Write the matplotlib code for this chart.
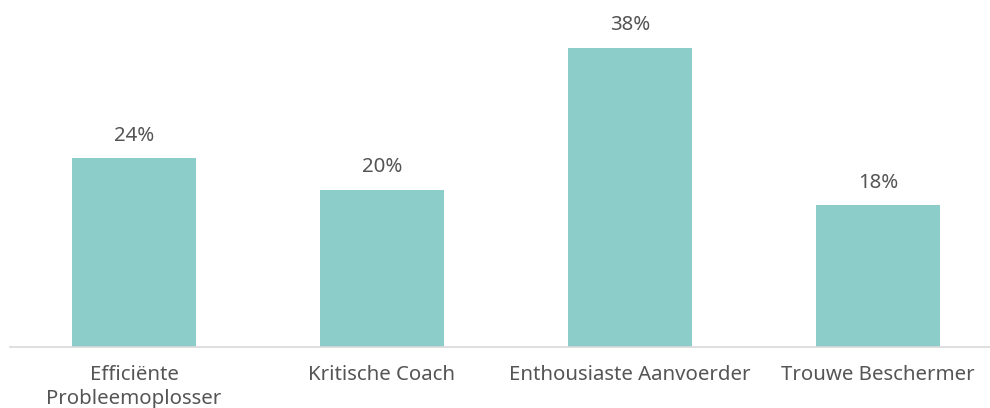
import matplotlib
matplotlib.use("Agg")
import matplotlib.pyplot as plt

categories = ["Efficiënte\nProbleemoplosser", "Kritische Coach", "Enthousiaste Aanvoerder", "Trouwe Beschermer"]
values = [24, 20, 38, 18]
labels = ["24%", "20%", "38%", "18%"]

plt.rcParams['font.family'] = ['Noto Sans', 'DejaVu Sans']
text_color = "#555555"
bar_color = "#8ccdca"

fig = plt.figure(figsize=(9.9, 4.08), dpi=100)
ax = fig.add_axes([10/990, (408-347)/408, 980/990, 347/408])
x = list(range(len(categories)))
bars = ax.bar(x, values, width=0.5, color=bar_color)
ax.set_xlim(-0.5, (990-134)/248)
ax.set_ylim(0, 347/7.87)
for xi, v, l in zip(x, values, labels):
    ax.annotate(l, (xi, v), xytext=(0, 9), textcoords="offset points",
                ha="center", va="bottom", fontsize=14.7, color=text_color)
ax.set_xticks(x)
ax.set_xticklabels(categories, fontsize=14.7, color=text_color, linespacing=1.25)
ax.tick_params(axis='x', length=0, pad=13)
ax.set_yticks([])
for s in ["top", "right", "left"]:
    ax.spines[s].set_visible(False)
ax.spines["bottom"].set_color("#d9d9d9")
ax.spines["bottom"].set_linewidth(1.2)
fig.savefig("out.png", dpi=100)
